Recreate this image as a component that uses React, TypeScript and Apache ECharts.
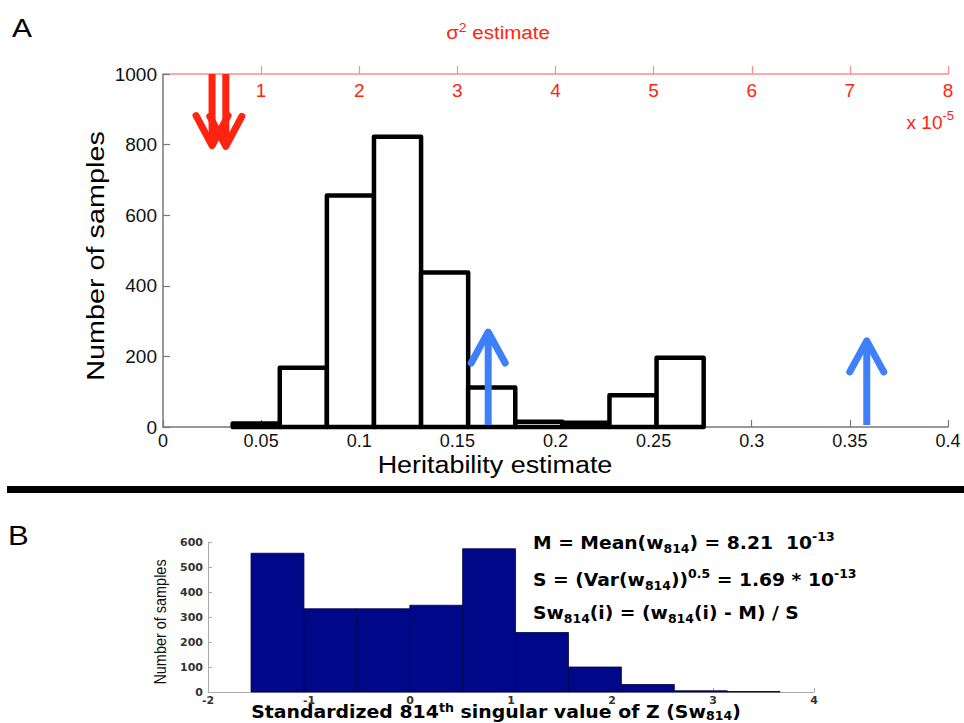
import React, { useEffect, useRef } from "react";
import * as echarts from "echarts";

// ---------- Panel A data ----------
const heritBinStart = [0.0355, 0.0595, 0.0835, 0.1075, 0.1315, 0.1555, 0.1795, 0.2035, 0.2275, 0.2515];
const heritBinWidth = 0.024;
const heritCounts = [10, 168, 656, 822, 438, 112, 15, 12, 90, 196];
const heritTickLabels = ["0", "0.05", "0.1", "0.15", "0.2", "0.25", "0.3", "0.35", "0.4"];

const blueArrowX = [0.1657, 0.3586];
const blueArrowTip = [269, 244];
const redArrowSigma = [0.5, 0.64]; // x 10^-5
const redArrowTip = [797, 795];

// ---------- Panel B data ----------
const swBinStart = [-1.574, -1.05, -0.526, -0.002, 0.521, 1.045, 1.569, 2.093, 2.617, 3.14];
const swBinWidth = 0.524;
const swCounts = [555, 333, 333, 347, 573, 238, 100, 30, 5, 2];

const SANS = "'Liberation Sans', Arial, Helvetica, sans-serif";
const BOLD = "'DejaVu Sans', 'Liberation Sans', sans-serif";
const BLUE = "#3f80f8";
const RED = "#ff2410";
const RED_AXIS = "#ff8c8c";

export default function App() {
  const ref = useRef<HTMLDivElement>(null);

  useEffect(() => {
    if (!ref.current) return;
    const chart = echarts.init(ref.current, null, { renderer: "svg" });

    const histA = heritBinStart.map((s, i) => [s, heritCounts[i]]);
    const histB = swBinStart.map((s, i) => [s, swCounts[i]]);
    const blueData = blueArrowX.map((x, i) => [x, blueArrowTip[i]]);
    const redData = redArrowSigma.map((x, i) => [x, redArrowTip[i]]);

    const mkRich = (lh: number) => ({
      base: { fontFamily: BOLD, fontWeight: "bold", fontSize: 18, lineHeight: lh, color: "#000" },
      sup: { fontFamily: BOLD, fontWeight: "bold", fontSize: 12, lineHeight: lh, verticalAlign: "top", color: "#000" },
      sub: { fontFamily: BOLD, fontWeight: "bold", fontSize: 12, lineHeight: lh, verticalAlign: "bottom", color: "#000" },
    });

    const option: any = {
      animation: false,
      backgroundColor: "#fff",
      grid: [
        { left: 163, top: 74, width: 785, height: 353, containLabel: false },
        { left: 208, top: 542, width: 606, height: 150, containLabel: false },
      ],
      xAxis: [
        {
          type: "value",
          gridIndex: 0,
          position: "bottom",
          min: 0,
          max: 0.4,
          interval: 0.05,
          splitLine: { show: false },
          axisLine: { onZero: false, lineStyle: { color: "#777", width: 1.5 } },
          axisTick: { inside: true, length: 7, lineStyle: { color: "#777", width: 1.2 } },
          axisLabel: {
            color: "#111",
            fontSize: 18,
            fontFamily: SANS,
            margin: 5,
            formatter: (v: number) => heritTickLabels[Math.round(v / 0.05)] ?? String(v),
          },
        },
        {
          type: "value",
          gridIndex: 0,
          position: "top",
          min: 0,
          max: 8,
          interval: 1,
          splitLine: { show: false },
          axisLine: { onZero: false, lineStyle: { color: RED_AXIS, width: 1.5 } },
          axisTick: { inside: false, length: 8, lineStyle: { color: RED_AXIS, width: 1.2 } },
          axisLabel: {
            inside: true,
            color: RED,
            fontSize: 19,
            fontFamily: SANS,
            margin: 7,
            showMinLabel: false,
          },
        },
        {
          type: "value",
          gridIndex: 1,
          position: "bottom",
          min: -2,
          max: 4,
          interval: 1,
          splitLine: { show: false },
          axisLine: { onZero: false, lineStyle: { color: "#aaa", width: 1 } },
          axisTick: { inside: true, length: 4, lineStyle: { color: "#aaa" } },
          axisLabel: { color: "#333", fontSize: 11, fontFamily: BOLD, fontWeight: "bold", margin: 3 },
        },
      ],
      yAxis: [
        {
          type: "value",
          gridIndex: 0,
          position: "left",
          min: 0,
          max: 1000,
          interval: 200,
          splitLine: { show: false },
          axisLine: { show: true, onZero: false, lineStyle: { color: "#777", width: 1.5 } },
          axisTick: { show: true, inside: true, length: 7, lineStyle: { color: "#777", width: 1.2 } },
          axisLabel: { color: "#111", fontSize: 19, fontFamily: SANS, margin: 6, formatter: (v: number) => String(v) },
        },
        {
          type: "value",
          gridIndex: 1,
          position: "left",
          min: 0,
          max: 600,
          interval: 100,
          splitLine: { show: false },
          axisLine: { show: true, onZero: false, lineStyle: { color: "#aaa", width: 1 } },
          axisTick: { show: true, inside: true, length: 4, lineStyle: { color: "#aaa" } },
          axisLabel: { color: "#333", fontSize: 11, fontFamily: BOLD, fontWeight: "bold", margin: 5, formatter: (v: number) => String(v) },
        },
      ],
      series: [
        {
          type: "custom",
          name: "heritability",
          xAxisIndex: 0,
          yAxisIndex: 0,
          clip: false,
          data: histA,
          encode: { x: 0, y: 1 },
          z: 2,
          renderItem: (params: any, api: any) => {
            const s = api.value(0);
            const c = api.value(1);
            const p0 = api.coord([s, c]);
            const p1 = api.coord([s + heritBinWidth, 0]);
            return {
              type: "rect",
              shape: { x: p0[0], y: p0[1], width: p1[0] - p0[0], height: p1[1] - p0[1] },
              style: { fill: "#fff", stroke: "#000", lineWidth: 4.5, lineJoin: "round" },
            };
          },
        },
        {
          type: "custom",
          name: "blueArrows",
          xAxisIndex: 0,
          yAxisIndex: 0,
          clip: false,
          data: blueData,
          encode: { x: 0, y: 1 },
          z: 5,
          renderItem: (params: any, api: any) => {
            const x = api.value(0);
            const tip = api.value(1);
            const b = api.coord([x, 0]);
            const t = api.coord([x, tip]);
            return {
              type: "group",
              children: [
                {
                  type: "line",
                  shape: { x1: b[0], y1: b[1] - 2, x2: t[0], y2: t[1] + 3 },
                  style: { stroke: BLUE, lineWidth: 7 },
                },
                {
                  type: "polyline",
                  shape: { points: [[t[0] - 17, t[1] + 31], [t[0], t[1]], [t[0] + 17, t[1] + 31]] },
                  style: { stroke: BLUE, lineWidth: 7, fill: "none", lineJoin: "round", lineCap: "round" },
                },
              ],
            };
          },
        },
        {
          type: "custom",
          name: "redArrows",
          xAxisIndex: 1,
          yAxisIndex: 0,
          clip: false,
          data: redData,
          encode: { x: 0, y: 1 },
          z: 5,
          renderItem: (params: any, api: any) => {
            const x = api.value(0);
            const tip = api.value(1);
            const b = api.coord([x, 1000]);
            const t = api.coord([x, tip]);
            return {
              type: "group",
              children: [
                {
                  type: "line",
                  shape: { x1: b[0], y1: b[1], x2: t[0], y2: t[1] - 3 },
                  style: { stroke: RED, lineWidth: 7 },
                },
                {
                  type: "polyline",
                  shape: { points: [[t[0] - 16, t[1] - 30], [t[0], t[1]], [t[0] + 16, t[1] - 30]] },
                  style: { stroke: RED, lineWidth: 7, fill: "none", lineJoin: "round", lineCap: "round" },
                },
              ],
            };
          },
        },
        {
          type: "custom",
          name: "standardized",
          xAxisIndex: 2,
          yAxisIndex: 1,
          clip: false,
          data: histB,
          encode: { x: 0, y: 1 },
          z: 2,
          renderItem: (params: any, api: any) => {
            const s = api.value(0);
            const c = api.value(1);
            const p0 = api.coord([s, c]);
            const p1 = api.coord([s + swBinWidth, 0]);
            return {
              type: "rect",
              shape: { x: p0[0], y: p0[1], width: p1[0] - p0[0], height: p1[1] - p0[1] },
              style: { fill: "#00088a", stroke: "#000045", lineWidth: 0.8 },
            };
          },
        },
      ],
      graphic: [
        {
          type: "text",
          x: 12,
          y: 15,
          scaleX: 1.15,
          style: { text: "A", fontSize: 26, fontFamily: SANS, fill: "#000" },
        },
        {
          type: "text",
          x: 498,
          y: 32,
          scaleX: 1.08,
          style: {
            text: "σ{sup|2} estimate",
            align: "center",
            verticalAlign: "middle",
            fontSize: 19,
            fontFamily: SANS,
            fill: RED,
            rich: {
              sup: { fontSize: 13, fontFamily: SANS, fill: RED, verticalAlign: "top", lineHeight: 22 },
            },
          },
        },
        {
          type: "text",
          x: 954,
          y: 122,
          style: {
            text: "x 10{sup|-5}",
            align: "right",
            verticalAlign: "middle",
            fontSize: 19,
            fontFamily: SANS,
            fill: RED,
            rich: {
              sup: { fontSize: 13, fontFamily: SANS, fill: RED, verticalAlign: "top", lineHeight: 26 },
            },
          },
        },
        {
          type: "text",
          x: 495,
          y: 465,
          scaleX: 1.17,
          style: {
            text: "Heritability estimate",
            align: "center",
            verticalAlign: "middle",
            fontSize: 23,
            fontFamily: SANS,
            fill: "#000",
          },
        },
        {
          type: "text",
          x: 96,
          y: 256,
          rotation: Math.PI / 2,
          scaleX: 1.2,
          style: {
            text: "Number of samples",
            align: "center",
            verticalAlign: "middle",
            fontSize: 24,
            fontFamily: SANS,
            fill: "#000",
          },
        },
        {
          type: "rect",
          shape: { x: 7, y: 486, width: 957, height: 7 },
          style: { fill: "#000" },
        },
        {
          type: "text",
          x: 8,
          y: 522,
          scaleX: 1.15,
          style: { text: "B", fontSize: 27, fontFamily: SANS, fill: "#000" },
        },
        {
          type: "text",
          x: 160,
          y: 622,
          rotation: Math.PI / 2,
          scaleX: 0.85,
          style: {
            text: "Number of samples",
            align: "center",
            verticalAlign: "middle",
            fontSize: 17,
            fontFamily: SANS,
            fill: "#111",
          },
        },
        {
          type: "text",
          x: 496,
          y: 712,
          scaleX: 1.05,
          style: {
            text: "{base|Standardized 814}{sup|th}{base| singular value of Z (Sw}{sub|814}{base|)}",
            align: "center",
            verticalAlign: "middle",
            rich: mkRich(20),
          },
        },
        {
          type: "text",
          x: 533,
          y: 543,
          scaleX: 1.04,
          style: {
            text: "{base|M = Mean(w}{sub|814}{base|) = 8.21  10}{sup|-13}",
            align: "left",
            verticalAlign: "middle",
            rich: mkRich(24),
          },
        },
        {
          type: "text",
          x: 533,
          y: 580,
          scaleX: 1.04,
          style: {
            text: "{base|S = (Var(w}{sub|814}{base|))}{sup|0.5}{base| = 1.69 * 10}{sup|-13}",
            align: "left",
            verticalAlign: "middle",
            rich: mkRich(24),
          },
        },
        {
          type: "text",
          x: 533,
          y: 613,
          scaleX: 1.04,
          style: {
            text: "{base|Sw}{sub|814}{base|(i) = (w}{sub|814}{base|(i) - M) / S}",
            align: "left",
            verticalAlign: "middle",
            rich: mkRich(24),
          },
        },
      ],
    };

    chart.setOption(option);
    return () => chart.dispose();
  }, []);

  return (
    <div
      ref={ref}
      style={{ position: "fixed", left: 0, top: 0, width: 964, height: 723, background: "#fff" }}
    />
  );
}
